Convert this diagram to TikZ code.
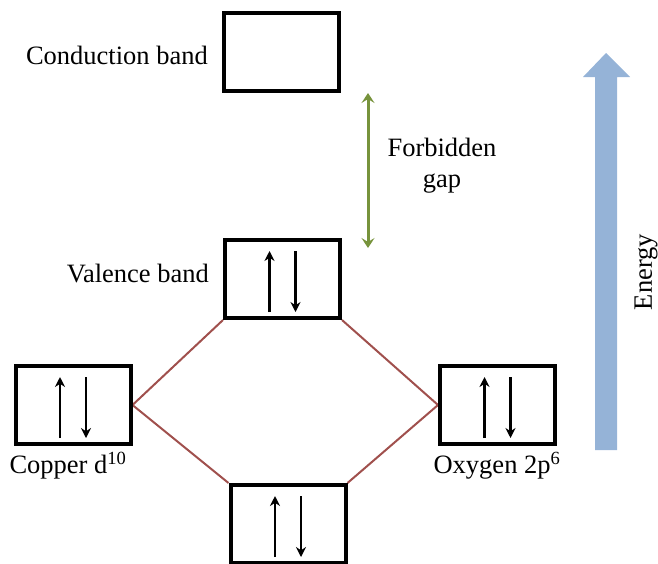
\documentclass[tikz,border=0pt]{standalone}
\usepackage{fontspec}
\IfFontExistsTF{LiberationSerif-Regular.ttf}{\setmainfont{LiberationSerif-Regular.ttf}}{\setmainfont{Liberation Serif}}
\usetikzlibrary{arrows.meta}
\definecolor{bandred}{HTML}{A0504D}
\definecolor{gapgreen}{HTML}{77933C}
\definecolor{energyblue}{HTML}{95B3D7}
\tikzset{
  band/.style={draw=black, line width=4pt, minimum width=115pt, minimum height=78pt, inner sep=0pt, fill=white},
  lbl/.style={font=\rmfamily\fontsize{26.5}{31}\selectfont, inner sep=0pt},
  spin/.style={line width=2.4pt, -{Stealth[length=10pt,width=10pt]}},
  link/.style={draw=bandred, line width=2pt},
}
\newcommand{\spins}[1]{%
  \draw[spin] ([xshift=-13pt,yshift=-33pt]#1.center) -- ([xshift=-13pt,yshift=28pt]#1.center);
  \draw[spin] ([xshift=13pt,yshift=28pt]#1.center) -- ([xshift=13pt,yshift=-33pt]#1.center);
}
\begin{document}
\begin{tikzpicture}[x=1pt,y=-1pt]
\useasboundingbox (0,0) rectangle (658,563);
\clip (0,0) rectangle (658,563);
\node[band] (cond) at (281.5,52) {};
\node[band] (val) at (282.5,279) {};
\node[band] (cu) at (73,405) {};
\node[band] (ox) at (497.5,405) {};
\node[band] (bot) at (288,524) {};
\draw[link] (val.south west) -- (cu.east);
\draw[link] (val.south east) -- (ox.west);
\draw[link] (cu.east) -- (bot.north west);
\draw[link] (ox.west) -- (bot.north east);
\node[band] at (val) {};
\node[band] at (cu) {};
\node[band] at (ox) {};
\node[band] at (bot) {};
\spins{val}
\spins{cu}
\spins{ox}
\spins{bot}
% labels
\node[lbl, anchor=east] (condl) at (208,55) {Conduction band};
\node[lbl, anchor=east] (vall) at (209,273) {Valence band};
\node[lbl] (cul) at (68,466) {Copper d\textsuperscript{10}};
\node[lbl] (oxl) at (497,466) {Oxygen 2p\textsuperscript{6}};
\node[lbl, align=center] (gapl) at (442,166) {Forbidden\\gap};
% forbidden gap arrow
\coordinate (gt) at (368,93);
\coordinate (gb) at (368,248);
\draw[draw=gapgreen, line width=3pt, {Stealth[length=10pt,width=13pt,inset=4pt]}-{Stealth[length=10pt,width=13pt,inset=4pt]}] (gt) -- (gb);
% energy arrow
\fill[energyblue] (595,450) -- (595,77) -- (583,77) -- (606,53) -- (630,77) -- (617,77) -- (617,450) -- cycle;
\node[lbl, rotate=90] (en) at (646,272) {Energy};
\end{tikzpicture}
\end{document}
